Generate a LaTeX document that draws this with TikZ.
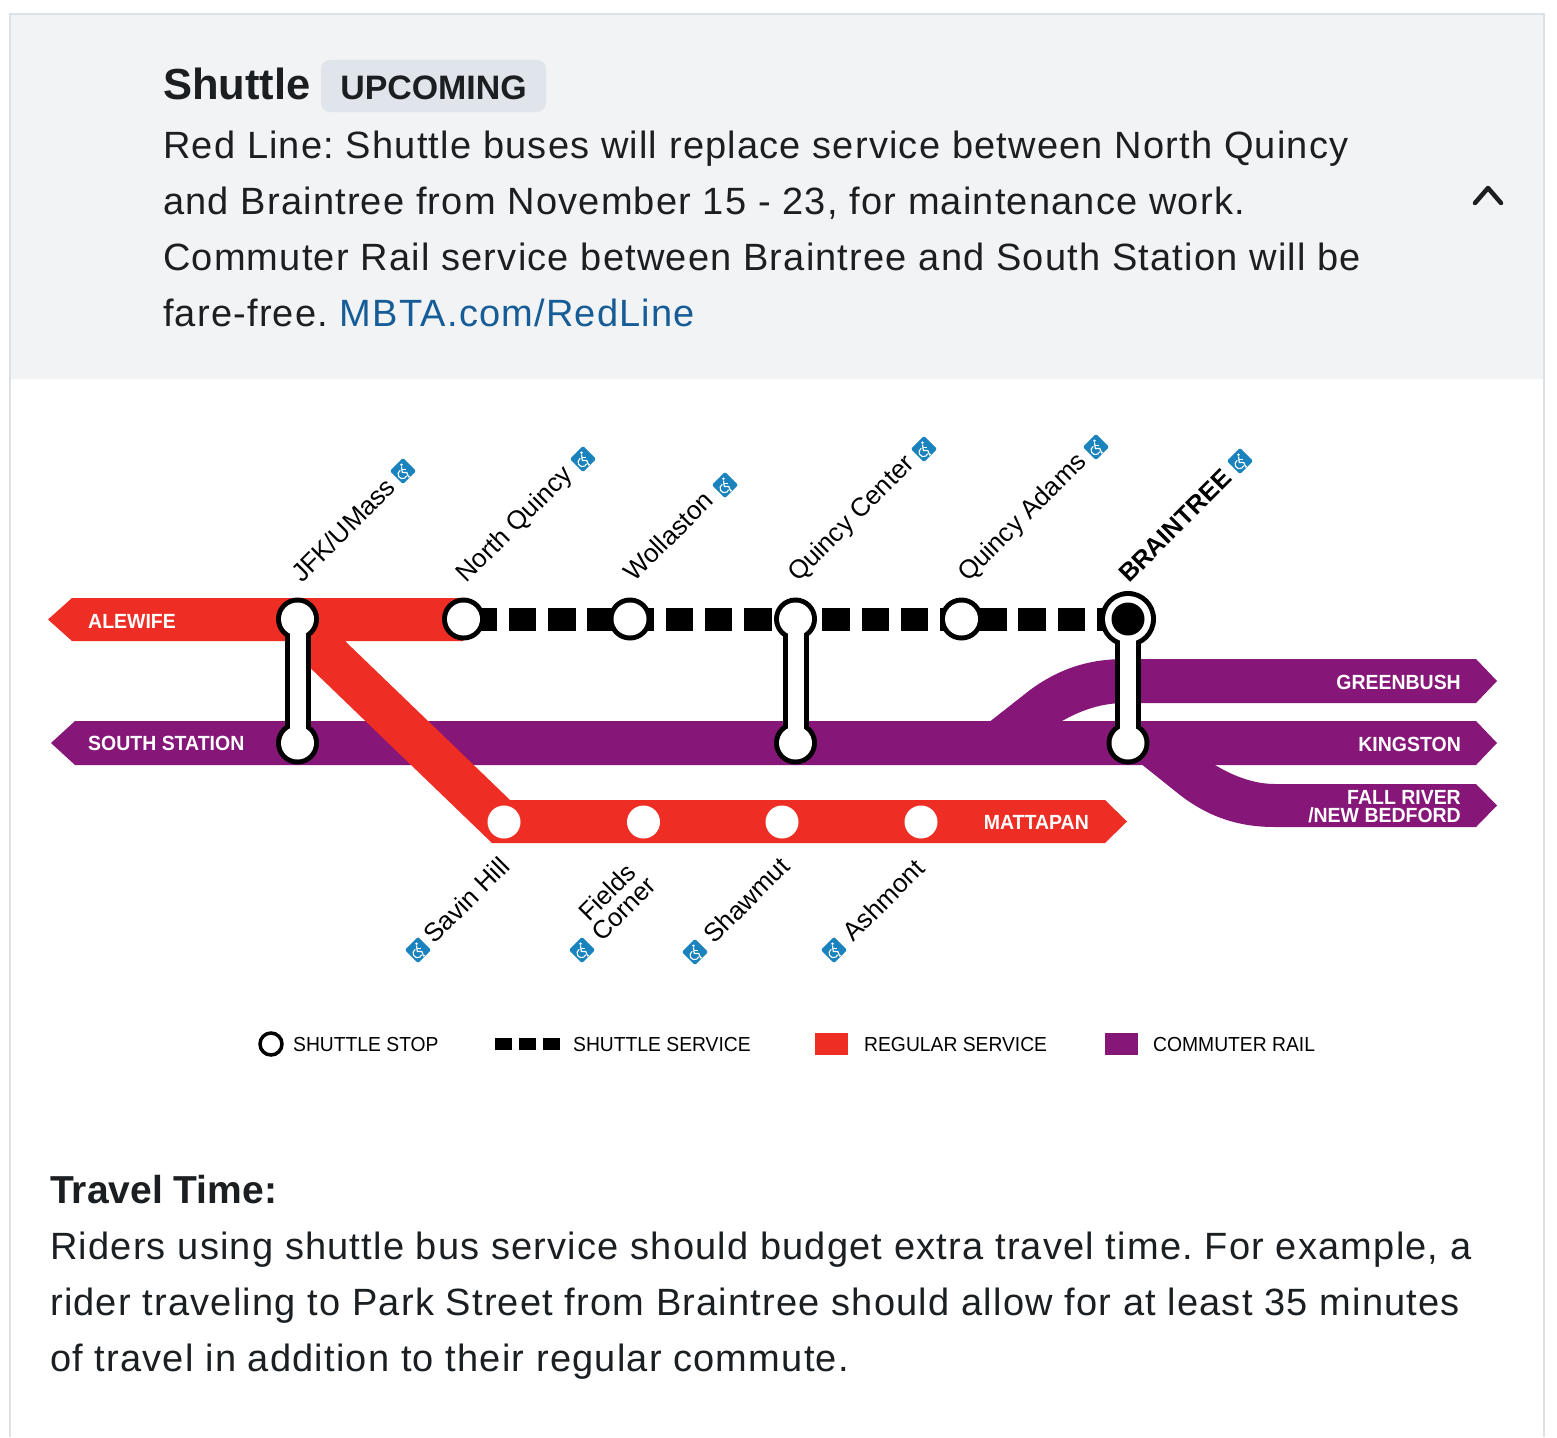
\documentclass[tikz,border=0pt]{standalone}
\usepackage{fontspec}
\setmainfont{Liberation Sans}
\newfontfamily\bodyf[LetterSpace=3.15]{Liberation Sans}
\newfontfamily\narrowf[FakeStretch=0.95]{Liberation Sans}
\definecolor{redl}{HTML}{EE2E24}
\definecolor{purp}{HTML}{861778}
\definecolor{hdr}{HTML}{F1F3F5}
\definecolor{bord}{HTML}{DDE1E5}
\definecolor{badge}{HTML}{DFE5EA}
\definecolor{ink}{HTML}{1C1F22}
\definecolor{linkc}{HTML}{165C96}
\definecolor{acc}{HTML}{1A82BD}
\tikzset{
  body/.style={anchor=base west,inner sep=0pt,text=ink,font=\bodyf\frenchspacing\fontsize{38}{38}\selectfont},
  trk/.style={anchor=base,inner sep=0pt,text=white,font=\narrowf\bfseries\fontsize{20.5}{18}\selectfont},
  stn/.style={anchor=base west,inner sep=0pt,rotate=45,text=black,font=\fontsize{26}{26}\selectfont},
  leg/.style={anchor=base west,inner sep=0pt,text=black,font=\narrowf\fontsize{20.3}{20.3}\selectfont},
  acs/.style={rectangle,rotate=45,fill=acc,rounded corners=1.5pt,minimum size=18.5pt,inner sep=0pt},
  stopw/.style={circle,fill=white,inner sep=0pt,minimum size=#1},
  stopb/.style={circle,fill=black,inner sep=0pt,minimum size=#1},
  link/.style={line width=16pt,draw=white},
  linkb/.style={line width=26pt,draw=black},
  wchair/.pic={
    \fill[white] (-1.5,-6.2) circle (1.4pt);
    \draw[white,line width=1.2pt,line join=round] (-1.5,-4.5) -- (-0.7,1.5) -- (3.8,1.5) -- (5.6,6) -- (7,5.4);
    \draw[white,line width=1.1pt] (-1,-1.8) -- (3,-1.8);
    \draw[white,line width=1.1pt] (-2.75,-0.7) arc (120:340:4.5pt);
  },
}
\begin{document}
\begin{tikzpicture}[x=1pt,y=-1pt]
\useasboundingbox (0,0) rectangle (1557,1437);
\fill[white] (0,0) rectangle (1557,1437);
% panel
\fill[hdr] (10,14) rectangle (1544,379);
\draw[bord,line width=1.5pt] (10,1437) -- (10,14) -- (1544,14) -- (1544,1437);
% header text
\node[anchor=base west,inner sep=0pt,text=ink,font=\bfseries\fontsize{43.5}{43.5}\selectfont] (ttl) at (163,99) {Shuttle};
\node[rectangle,fill=badge,rounded corners=9pt,minimum width=225pt,minimum height=52pt,inner sep=0pt] (bdg) at (433.5,86) {};
\node[anchor=base,inner sep=0pt,text=ink,font=\bfseries\fontsize{33.9}{33.9}\selectfont] (bdgt) at (433.5,99) {UPCOMING};
\node[body] (h1) at (163,158.5) {Red Line: Shuttle buses will replace service between North Quincy};
\node[body] (h2) at (163,214.5) {and Braintree from November 15 - 23, for maintenance work.};
\node[body] (h3) at (163,270.5) {Commuter Rail service between Braintree and South Station will be};
\node[body] (h4) at (163,326.5) {fare-free. \textcolor{linkc}{MBTA.com/RedLine}};
\draw[ink,line width=4.5pt,line cap=round,line join=round] (1475,203) -- (1488,188) -- (1501,203);
% tracks
\fill[purp] (51,743) -- (75,721) -- (1476,721) -- (1497,743) -- (1476,765) -- (75,765) -- cycle;
\fill[purp] (988,723) -- (1030,690) .. controls (1060,668) and (1090,659) .. (1125,659) -- (1476,659) -- (1497,681) -- (1476,703) -- (1125,703) .. controls (1105,703) and (1085,708) .. (1062,721) -- (1062,730) -- (988,730) -- cycle;
\fill[purp] (1140,763) -- (1180,795) .. controls (1210,818) and (1240,827) .. (1275,827) -- (1476,827) -- (1497,805.5) -- (1476,784) -- (1275,784) .. controls (1255,784) and (1235,777) .. (1215,765) -- (1215,760) -- (1140,760) -- cycle;
\fill[redl] (48,619.5) -- (72,598) -- (463,598) -- (463,641) -- (345,641) -- (510,800) -- (1105,800) -- (1127,821.5) -- (1105,843) -- (492,843) -- (300,658) -- (300,641) -- (72,641) -- cycle;
% station positions
\coordinate (cjfk) at (297.5,619);
\coordinate (cjfks) at (297.5,743);
\coordinate (cnq) at (463.5,619);
\coordinate (cwol) at (630,619);
\coordinate (cqc) at (795.5,619);
\coordinate (cqcs) at (795.5,743);
\coordinate (cqa) at (961.5,619);
\coordinate (cbr) at (1128,619);
\coordinate (cbrs) at (1128,743);
% shuttle dashes
\draw[black,line width=23pt,dash pattern=on 27.7pt off 11.5pt] ([xshift=6pt]cnq) -- ([xshift=-4pt]cbr);
% links (black)
\foreach \a/\b in {cjfk/cjfks,cqc/cqcs,cbr/cbrs} \draw[linkb] (\a) -- (\b);
\node[stopb=43pt] (bjfk) at (cjfk) {};
\node[stopb=43pt] (bjfks) at (cjfks) {};
\node[stopb=43pt] (bnq) at (cnq) {};
\node[stopb=43pt] (bwol) at (cwol) {};
\node[stopb=43pt] (bqc) at (cqc) {};
\node[stopb=43pt] (bqcs) at (cqcs) {};
\node[stopb=43pt] (bqa) at (cqa) {};
\node[stopb=56pt] (bbr) at (cbr) {};
\node[stopb=43pt] (bbrs) at (cbrs) {};
\foreach \a/\b in {cjfk/cjfks,cqc/cqcs,cbr/cbrs} \draw[link] (\a) -- (\b);
\node[stopw=33pt] (wjfk) at (cjfk) {};
\node[stopw=33pt] (wjfks) at (cjfks) {};
\node[stopw=33pt] (wnq) at (cnq) {};
\node[stopw=33pt] (wwol) at (cwol) {};
\node[stopw=33pt] (wqc) at (cqc) {};
\node[stopw=33pt] (wqcs) at (cqcs) {};
\node[stopw=33pt] (wqa) at (cqa) {};
\node[stopw=46pt] (wbr) at (cbr) {};
\node[stopb=33pt] (ibr) at (cbr) {};
\node[stopw=33pt] (wbrs) at (cbrs) {};
% Mattapan stops
\node[stopw=33pt] (sh) at (504,822) {};
\node[stopw=33pt] (fc) at (643.5,822) {};
\node[stopw=33pt] (sm) at (782,822) {};
\node[stopw=33pt] (am) at (921,822) {};
% track labels
\node[trk,anchor=base west] (lal) at (88,628) {ALEWIFE};
\node[trk,anchor=base west] (lss) at (88,750) {SOUTH STATION};
\node[trk,anchor=base east] (lgb) at (1461,689) {GREENBUSH};
\node[trk,anchor=base east] (lki) at (1461,751) {KINGSTON};
\node[trk,anchor=east,align=right] (lfr) at (1461,806.5) {FALL RIVER\\/NEW BEDFORD};
\node[trk,anchor=base east] (lma) at (1089,829) {MATTAPAN};
% station labels
\node[stn] (tjfk) at (302,584) {JFK/UMass};
\node[stn] (tnq) at (466.5,584) {North Quincy};
\node[stn] (twol) at (634.5,583) {Wollaston};
\node[stn] (tqc) at (798,583) {Quincy Center};
\node[stn] (tqa) at (968,583) {Quincy Adams};
\node[stn,font=\bfseries\fontsize{25.2}{25.2}\selectfont] (tbr) at (1129,584) {BRAINTREE};
\node[stn] (tsh) at (434.5,945) {Savin Hill};
\node[stn,anchor=center,align=center,font=\fontsize{25.5}{23}\selectfont] (tfc) at (615,900) {Fields\\Corner};
\node[stn] (tsm) at (714.5,945) {Shawmut};
\node[stn] (tam) at (853.5,943) {Ashmont};
% accessibility icons
\node[acs] (ajfk) at (403,471) {};
\node[acs] (anq) at (583,459) {};
\node[acs] (awol) at (725,485) {};
\node[acs] (aqc) at (924,449) {};
\node[acs] (aqa) at (1096,447) {};
\node[acs] (abr) at (1240,461) {};
\node[acs] (ash) at (418,950) {};
\node[acs] (afc) at (582,950) {};
\node[acs] (asm) at (695,952) {};
\node[acs] (aam) at (834,950) {};
\foreach \n in {ajfk,anq,awol,aqc,aqa,abr,ash,afc,asm,aam} \pic at (\n) {wchair};
% legend
\node[circle,draw=black,line width=3.5pt,fill=white,minimum size=22pt,inner sep=0pt] (lg1) at (271,1044) {};
\node[leg] (lgt1) at (293,1051) {SHUTTLE STOP};
\fill (495,1038) rectangle (512,1050);
\fill (519,1038) rectangle (536,1050);
\fill (543,1038) rectangle (560,1050);
\node[leg] (lgt2) at (573,1051) {SHUTTLE SERVICE};
\fill[redl] (815,1033) rectangle (848,1055);
\node[leg] (lgt3) at (864,1051) {REGULAR SERVICE};
\fill[purp] (1105,1033) rectangle (1138,1055);
\node[leg] (lgt4) at (1153,1051) {COMMUTER RAIL};
% bottom text
\node[anchor=base west,inner sep=0pt,text=ink,font=\bfseries\fontsize{39}{39}\selectfont] (b0) at (50,1203.5) {Travel Time:};
\node[body] (b1) at (50,1259.5) {Riders using shuttle bus service should budget extra travel time. For example, a};
\node[body] (b2) at (50,1315.5) {rider traveling to Park Street from Braintree should allow for at least 35 minutes};
\node[body] (b3) at (50,1371.5) {of travel in addition to their regular commute.};
\end{tikzpicture}
\end{document}
